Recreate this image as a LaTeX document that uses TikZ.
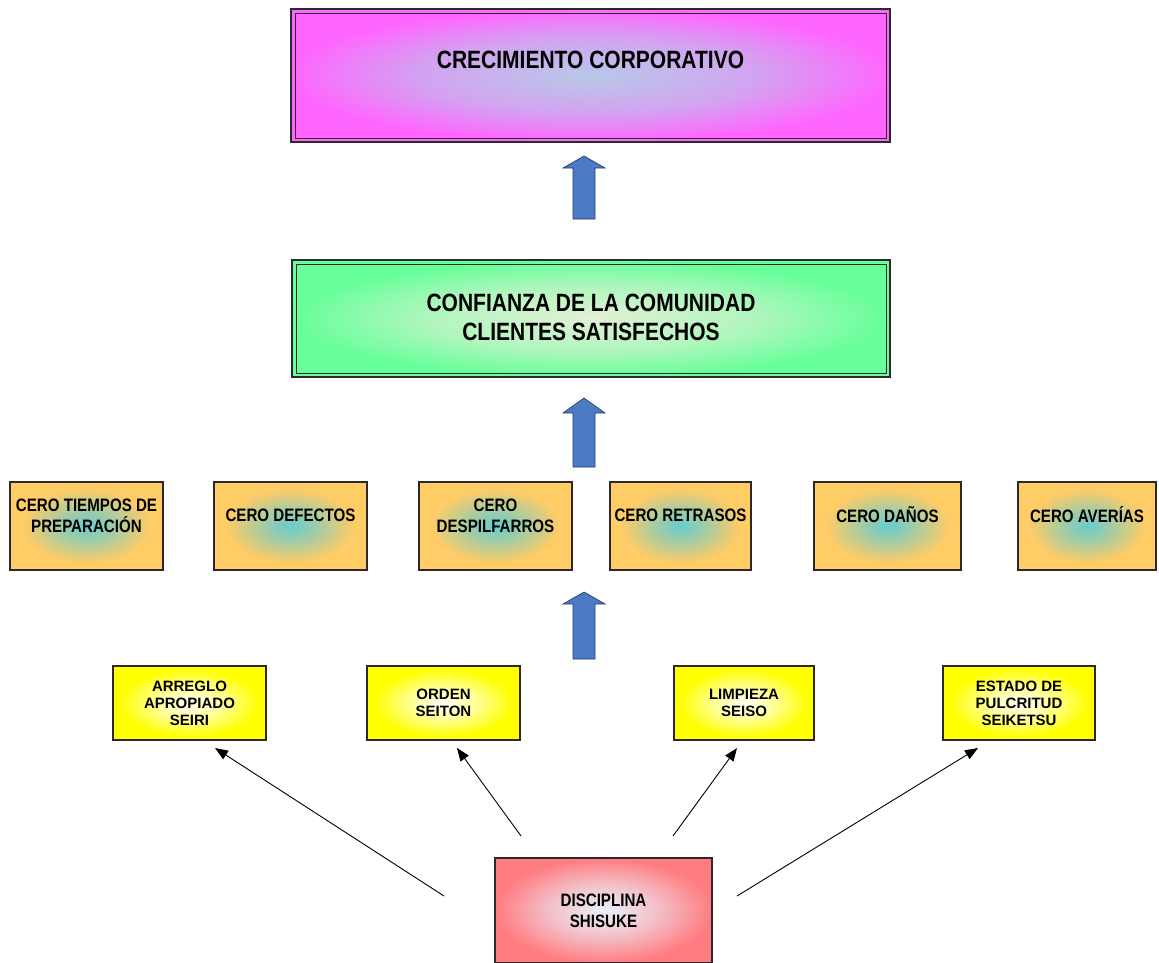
\documentclass[tikz,border=0pt]{standalone}
\usepackage{fontspec}
\setmainfont{Liberation Sans}[FakeStretch=0.84]
\newfontfamily\yellowfont{Liberation Sans}
\usetikzlibrary{arrows.meta}

% fill colours
\definecolor{magout}{RGB}{255,102,255}
\definecolor{magin}{RGB}{184,200,232}
\definecolor{grnout}{RGB}{102,255,153}
\definecolor{grnin}{RGB}{226,240,214}
\definecolor{orgout}{RGB}{255,204,102}
\definecolor{orgin}{RGB}{104,204,206}
\definecolor{yelout}{RGB}{255,255,0}
\definecolor{yelin}{RGB}{255,255,245}
\definecolor{redout}{RGB}{255,124,128}
\definecolor{redin}{RGB}{234,240,250}
\colorlet{magmid}{magin!62!magout}
\colorlet{grnmid}{grnin!60!grnout}
\colorlet{orgmid}{orgin!65!orgout}
\colorlet{yelmid}{yelin!65!yelout}
\colorlet{redmid}{redin!60!redout}
\definecolor{arrowblue}{RGB}{74,123,196}
\definecolor{arrowedge}{RGB}{40,62,100}
\definecolor{boxedge}{RGB}{45,40,45}

% radial fills; 50bp is the rim of the ellipse inscribed in a box
\pgfdeclareradialshading{magshade}{\pgfpoint{0bp}{0bp}}{color(0bp)=(magin); color(28bp)=(magmid); color(50bp)=(magout)}
\pgfdeclareradialshading{grnshade}{\pgfpoint{0bp}{0bp}}{color(0bp)=(grnin); color(27bp)=(grnmid); color(50bp)=(grnout)}
\pgfdeclareradialshading{orgshade}{\pgfpoint{0bp}{0bp}}{color(0bp)=(orgin); color(16bp)=(orgmid); color(42bp)=(orgout); color(50bp)=(orgout)}
\pgfdeclareradialshading{yelshade}{\pgfpoint{0bp}{0bp}}{color(0bp)=(yelin); color(20bp)=(yelmid); color(46bp)=(yelout); color(50bp)=(yelout)}
\pgfdeclareradialshading{redshade}{\pgfpoint{0bp}{0bp}}{color(0bp)=(redin); color(24bp)=(redmid); color(50bp)=(redout)}

\tikzset{
  gradfill/.style n args={3}{path picture={
    \pgftransformshift{\pgfpointanchor{path picture bounding box}{center}}%
    \pgftransformxscale{#2}\pgftransformyscale{#3}%
    \pgflowlevelsynccm
    \pgfuseshading{#1}}},
  box/.style={draw=boxedge, line width=1.1pt, inner sep=0pt, outer sep=0pt, anchor=north west},
  bigbox/.style={box, line width=1.5pt},
  innerline/.style={draw=boxedge, line width=0.8pt},
  toplbl/.style={font=\bfseries\fontsize{25}{29}\selectfont, align=center, inner sep=0pt},
  zerolbl/.style={font=\bfseries\fontsize{18}{21}\selectfont, align=center, inner sep=0pt},
  sslbl/.style={font=\yellowfont\bfseries\fontsize{15}{17}\selectfont, align=center, inner sep=0pt},
  disclbl/.style={font=\bfseries\fontsize{18}{21}\selectfont, align=center, inner sep=0pt},
  zerobox/.style={box, fill=orgout, minimum height=88pt},
  ssbox/.style={box, fill=yelout, minimum height=74pt},
  blockarrow/.style={fill=arrowblue, draw=arrowedge, line width=0.7pt, line join=miter},
  thinarrow/.style={draw=black, line width=0.9pt, -{Triangle[length=13pt,width=10pt]}},
}

\begin{document}
\begin{tikzpicture}[x=1pt, y=-1pt]
\useasboundingbox (0,0) rectangle (1159,962);

% top level
\node[bigbox, fill=magout, gradfill={magshade}{5.99}{1.33}, minimum width=599pt, minimum height=133pt] (growth) at (291,9) {};
\draw[innerline] ([xshift=4pt,yshift=-4pt]growth.north west) rectangle ([xshift=-4pt,yshift=4pt]growth.south east);
\node[toplbl] (growthtext) at ([yshift=15.5pt]growth.center) {CRECIMIENTO CORPORATIVO};

% second level
\node[bigbox, fill=grnout, gradfill={grnshade}{5.98}{1.17}, minimum width=598pt, minimum height=117pt] (trust) at (292,260) {};
\draw[innerline] ([xshift=4pt,yshift=-4pt]trust.north west) rectangle ([xshift=-4pt,yshift=4pt]trust.south east);
\node[toplbl] (trusttext) at ([yshift=1pt]trust.center) {CONFIANZA DE LA COMUNIDAD\\CLIENTES SATISFECHOS};

% the six zeros
\node[zerobox, gradfill={orgshade}{1.53}{0.88}, minimum width=153pt] (z1) at (10,482) {};
\node[zerobox, gradfill={orgshade}{1.53}{0.88}, minimum width=153pt] (z2) at (214,482) {};
\node[zerobox, gradfill={orgshade}{1.53}{0.88}, minimum width=153pt] (z3) at (419,482) {};
\node[zerobox, gradfill={orgshade}{1.41}{0.88}, minimum width=141pt] (z4) at (610,482) {};
\node[zerobox, gradfill={orgshade}{1.47}{0.88}, minimum width=147pt] (z5) at (814,482) {};
\node[zerobox, gradfill={orgshade}{1.38}{0.88}, minimum width=138pt] (z6) at (1018,482) {};
\node[zerolbl] (z1text) at ([yshift=10.5pt]z1.center) {CERO TIEMPOS DE\\PREPARACIÓN};
\node[zerolbl] (z2text) at ([yshift=11pt]z2.center) {CERO DEFECTOS};
\node[zerolbl] (z3text) at ([yshift=10.5pt]z3.center) {CERO\\DESPILFARROS};
\node[zerolbl] (z4text) at ([yshift=11pt]z4.center) {CERO RETRASOS};
\node[zerolbl] (z5text) at ([yshift=11pt]z5.center) {CERO DAÑOS};
\node[zerolbl] (z6text) at ([yshift=11pt]z6.center) {CERO AVERÍAS};

% the four S boxes
\node[ssbox, gradfill={yelshade}{1.53}{0.74}, minimum width=153pt] (s1) at (113,666) {};
\node[ssbox, gradfill={yelshade}{1.53}{0.74}, minimum width=153pt] (s2) at (367,666) {};
\node[ssbox, gradfill={yelshade}{1.40}{0.74}, minimum width=140pt] (s3) at (674,666) {};
\node[ssbox, gradfill={yelshade}{1.52}{0.74}, minimum width=152pt] (s4) at (943,666) {};
\node[sslbl] (s1text) at (s1.center) {ARREGLO\\APROPIADO\\SEIRI};
\node[sslbl] (s2text) at (s2.center) {ORDEN\\SEITON};
\node[sslbl] (s3text) at (s3.center) {LIMPIEZA\\SEISO};
\node[sslbl] (s4text) at (s4.center) {ESTADO DE\\PULCRITUD\\SEIKETSU};

% discipline
\node[box, fill=redout, gradfill={redshade}{2.17}{1.05}, minimum width=217pt, minimum height=105pt] (disc) at (495,858) {};
\node[disclbl] (disctext) at (disc.center) {DISCIPLINA\\SHISUKE};

% block arrows between levels
\draw[blockarrow] (573,219) -- (573,168) -- (563,168) -- (584,156) -- (605,168) -- (595,168) -- (595,219) -- cycle;
\draw[blockarrow] (573,467) -- (573,413) -- (563,413) -- (584,398) -- (605,413) -- (595,413) -- (595,467) -- cycle;
\draw[blockarrow] (573,659) -- (573,604) -- (563,604) -- (584,592) -- (605,604) -- (595,604) -- (595,659) -- cycle;

% thin arrows from discipline to the S boxes
\coordinate (d1) at (444,896);
\coordinate (d2) at (521,836);
\coordinate (d3) at (673,836);
\coordinate (d4) at (737,896);
\coordinate (e1) at (215,748);
\coordinate (e2) at (457,748);
\coordinate (e3) at (737,748);
\coordinate (e4) at (978,748);
\draw[thinarrow] (d1) -- (e1);
\draw[thinarrow] (d2) -- (e2);
\draw[thinarrow] (d3) -- (e3);
\draw[thinarrow] (d4) -- (e4);
\end{tikzpicture}
\end{document}
